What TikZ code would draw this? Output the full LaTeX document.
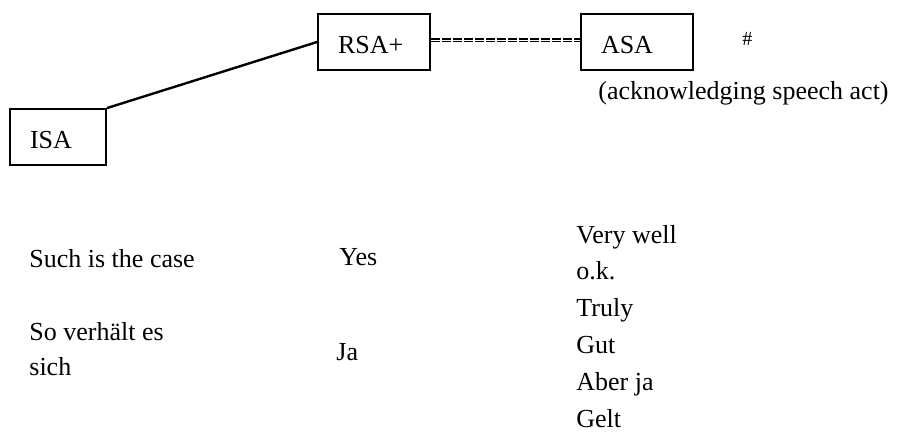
\documentclass[tikz,border=0pt]{standalone}
\usepackage{fontspec}
\setmainfont{Liberation Serif}
\usepackage{tikz}

\tikzset{
    every node/.style={font=\fontsize{13}{15}\selectfont},
    sabox/.style={draw,line width=0.9pt,minimum height=28pt,inner xsep=10pt,text width=36pt,align=left,text height=12pt,text depth=0pt},
    word/.style={anchor=base west,inner sep=0pt},
    conn/.style={line width=1.2pt},
    ackconn/.style={double,double distance=0.4pt,line width=0.9pt,dash pattern=on 4.5pt off 1pt}
}

\begin{document}
\begin{tikzpicture}[x=0.5pt,y=-0.5pt]
                    \useasboundingbox (0,0) rectangle (897,432);
                    \node[sabox] (rsa) at (374,42) {RSA+};
                    \node[sabox] (asa) at (637,42) {ASA};
                    \node[sabox,text width=28pt] (isa) at (58,137) {ISA};
                    \draw[conn] (isa.north east) -- (rsa.west);
                    \draw[ackconn] ([yshift=1pt]rsa.east) -- ([yshift=1pt]asa.west);
                    \node[word,font=\fontsize{10}{12}\selectfont] (hash) at (742,46) {\#};
                    \node[word] (ackname) at (598,100) {(acknowledging speech act)};
                    \node[word] (isa1) at (29,267) {Such is the case};
                    \node[word] (isa2) at (29,340) {So verhält es};
                    \node[word] (isa3) at (29,375) {sich};
                    \node[word] (rsa1) at (339,265) {Yes};
                    \node[word] (rsa2) at (336,360) {Ja};
                    \foreach \w [count=\i] in {Very well,o.k.,Truly,Gut,Aber ja,Gelt} { \node[word] (ack\i) at (576,{243+36.8*(\i-1)}) {\w}; }
                \end{tikzpicture}
\end{document}
